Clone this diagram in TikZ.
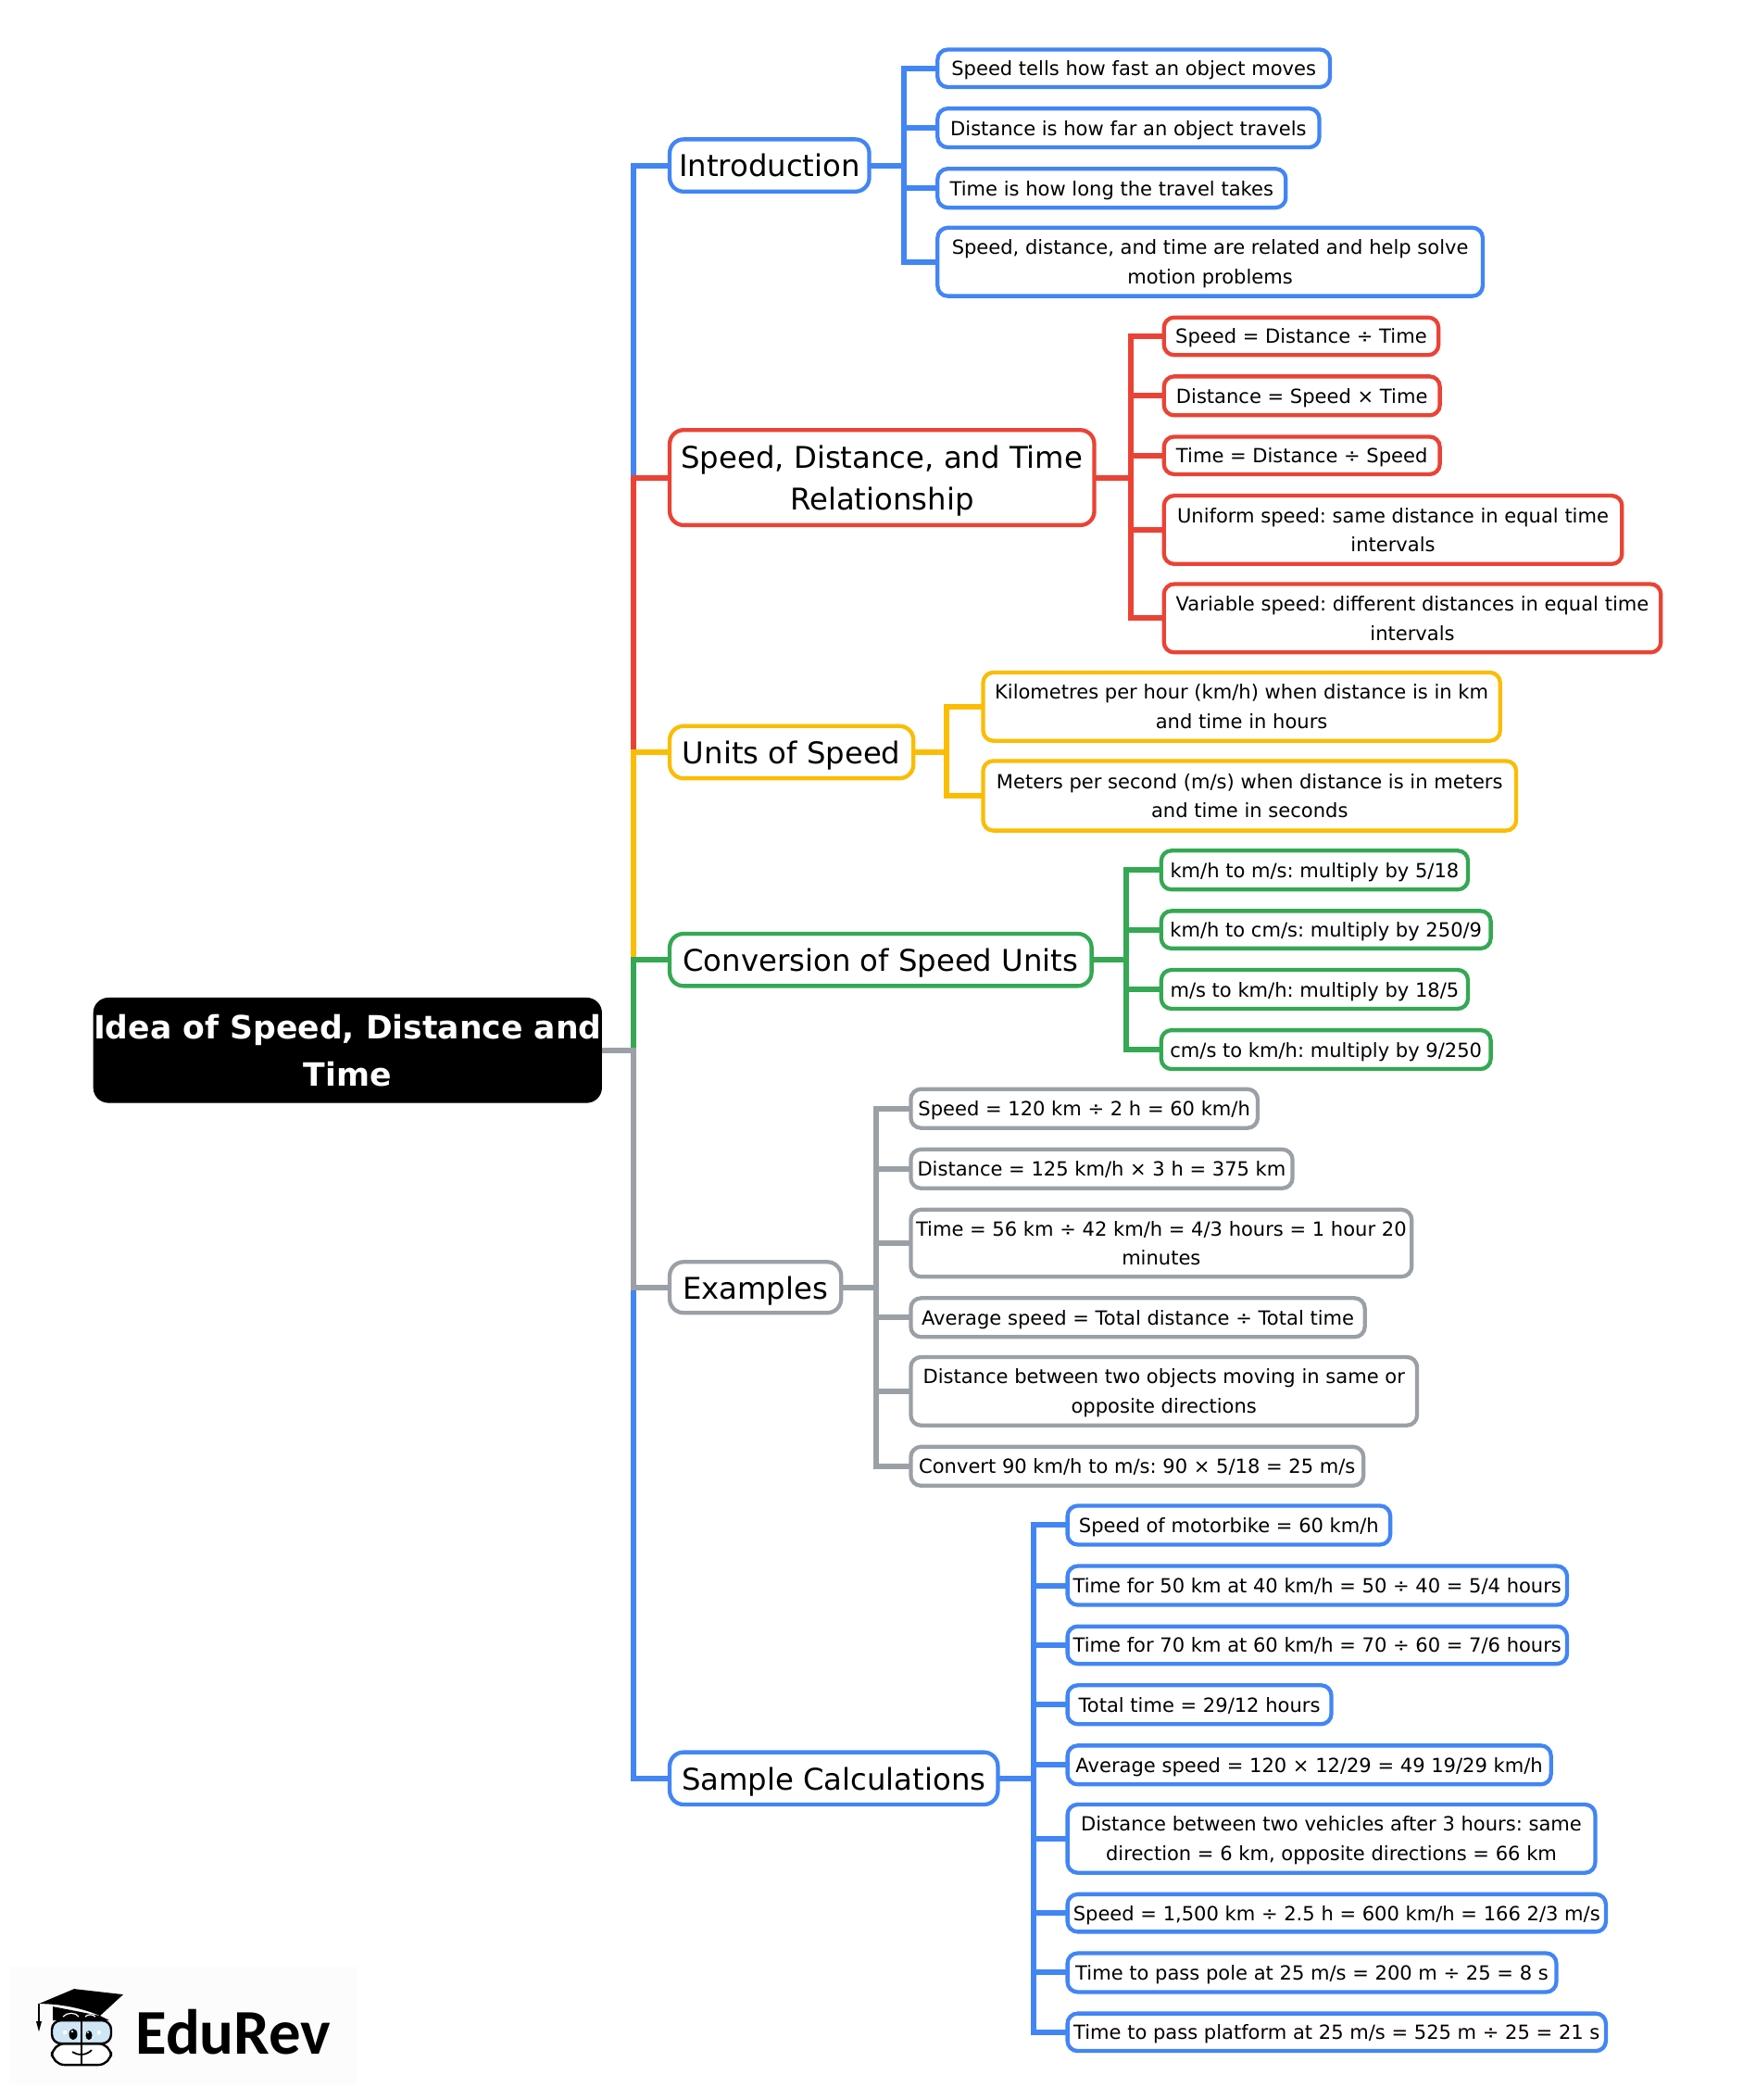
\documentclass[tikz,border=0pt]{standalone}
\usepackage{fontspec}
\setmainfont{DejaVu Sans}
\newfontfamily\logofont{Carlito}
\definecolor{cblue}{HTML}{4285F4}
\definecolor{cred}{HTML}{EA4335}
\definecolor{cyel}{HTML}{FBBC04}
\definecolor{cgrn}{HTML}{34A853}
\definecolor{cgry}{HTML}{9AA0A6}
\definecolor{cglass}{HTML}{CFE6F5}
\newlength{\dunit}\setlength{\dunit}{0.72306pt}
\tikzset{
  x=0.72306pt,y=-0.72306pt,
  basebox/.style={rectangle,outer sep=0pt,inner sep=0pt,align=center,fill=white,text=black},
  leaf/.style={basebox,rounded corners=5.5pt,line width=2.15pt,font=\fontsize{10.52}{15.9}\selectfont\frenchspacing\def\ta{11pt}\def\tb{3pt}},
  branch/.style={basebox,rounded corners=7.5pt,line width=2.15pt,font=\fontsize{16.15}{22.8}\selectfont\frenchspacing\def\ta{16pt}\def\tb{3.7pt}},
  rootbox/.style={basebox,rounded corners=8pt,fill=black,text=white,font=\bfseries\fontsize{17.3}{25.4}\selectfont\frenchspacing\def\ta{17.4pt}\def\tb{4pt}},
  conn/.style={line width=3pt,miter limit=10}
}
% style, name, colour, x1,y1,x2,y2, text
\newcommand{\bx}[8]{%
  \pgfmathsetlengthmacro{\bw}{(#6-#4)*\dunit}%
  \pgfmathsetlengthmacro{\bh}{(#7-#5)*\dunit}%
  \node[#1,draw=#3,minimum width=\bw,minimum height=\bh] (#2) at ({(#4+#6)/2},{(#5+#7)/2}) {\rule{0pt}{\ta}#8\rule[-\tb]{0pt}{\tb}};}
% from, bus, to, colour
\newcommand{\lk}[4]{\draw[conn,draw=#4] (#1.east) -- (#1.east -| #2) -- (#2 |- #3.west) -- (#3.west);}
\newcommand{\spn}[2]{\draw[conn,draw=#2] (root.east) -- (spine |- root.east) -- (spine |- #1.west) -- (#1.west);}
\begin{document}
\begin{tikzpicture}
\useasboundingbox (0,0) rectangle (1310.4,1567.6);
\fill[white] (0,0) rectangle (1310.4,1567.6);
% root and branches
\bx{rootbox}{root}{black}{70}{745}{449}{823}{Idea of Speed, Distance and\\Time}
\bx{branch}{intro}{cblue}{500}{104}{649}{143}{Introduction}
\bx{branch}{rel}{cred}{500}{321}{817}{392}{Speed, Distance, and Time\\Relationship}
\bx{branch}{units}{cyel}{500}{542}{682}{581}{Units of Speed}
\bx{branch}{conv}{cgrn}{500}{697}{815}{736}{Conversion of Speed Units}
\bx{branch}{exam}{cgry}{500}{942}{628}{980}{Examples}
\bx{branch}{samp}{cblue}{500}{1308}{745}{1347}{Sample Calculations}
% Introduction leaves
\bx{leaf}{a1}{cblue}{700}{37}{993}{65}{Speed tells how fast an object moves}
\bx{leaf}{a2}{cblue}{700}{81}{985}{110}{Distance is how far an object travels}
\bx{leaf}{a3}{cblue}{700}{126}{960}{155}{Time is how long the travel takes}
\bx{leaf}{a4}{cblue}{700}{170}{1107}{221}{Speed, distance, and time are related and help solve\\motion problems}
% Relationship leaves
\bx{leaf}{b1}{cred}{869}{237}{1074}{265}{Speed = Distance ÷ Time}
\bx{leaf}{b2}{cred}{869}{281}{1075}{310}{Distance = Speed × Time}
\bx{leaf}{b3}{cred}{869}{326}{1075}{354}{Time = Distance ÷ Speed}
\bx{leaf}{b4}{cred}{869}{370}{1211}{421}{Uniform speed: same distance in equal time\\intervals}
\bx{leaf}{b5}{cred}{869}{436}{1240}{487}{Variable speed: different distances in equal time\\intervals}
% Units leaves
\bx{leaf}{c1}{cyel}{734}{502}{1120}{553}{Kilometres per hour (km/h) when distance is in km\\and time in hours}
\bx{leaf}{c2}{cyel}{734}{568}{1132}{620}{Meters per second (m/s) when distance is in meters\\and time in seconds}
% Conversion leaves
\bx{leaf}{d1}{cgrn}{867}{635}{1096}{664}{km/h to m/s: multiply by 5/18}
\bx{leaf}{d2}{cgrn}{867}{680}{1113}{708}{km/h to cm/s: multiply by 250/9}
\bx{leaf}{d3}{cgrn}{867}{724}{1096}{753}{m/s to km/h: multiply by 18/5}
\bx{leaf}{d4}{cgrn}{867}{769}{1113}{798}{cm/s to km/h: multiply by 9/250}
% Examples leaves
\bx{leaf}{e1}{cgry}{680}{813}{939}{842}{Speed = 120 km ÷ 2 h = 60 km/h}
\bx{leaf}{e2}{cgry}{680}{858}{965}{887}{Distance = 125 km/h × 3 h = 375 km}
\bx{leaf}{e3}{cgry}{680}{903}{1054}{953}{Time = 56 km ÷ 42 km/h = 4/3 hours = 1 hour 20\\minutes}
\bx{leaf}{e4}{cgry}{680}{969}{1019}{998}{Average speed = Total distance ÷ Total time}
\bx{leaf}{e5}{cgry}{680}{1013}{1058}{1064}{Distance between two objects moving in same or\\opposite directions}
\bx{leaf}{e6}{cgry}{680}{1080}{1018}{1109}{Convert 90 km/h to m/s: 90 × 5/18 = 25 m/s}
% Sample leaves
\bx{leaf}{f1}{cblue}{797}{1124}{1038}{1153}{Speed of motorbike = 60 km/h}
\bx{leaf}{f2}{cblue}{797}{1169}{1170}{1198}{Time for 50 km at 40 km/h = 50 ÷ 40 = 5/4 hours}
\bx{leaf}{f3}{cblue}{797}{1214}{1170}{1242}{Time for 70 km at 60 km/h = 70 ÷ 60 = 7/6 hours}
\bx{leaf}{f4}{cblue}{797}{1258}{994}{1287}{Total time = 29/12 hours}
\bx{leaf}{f5}{cblue}{797}{1303}{1158}{1332}{Average speed = 120 × 12/29 = 49 19/29 km/h}
\bx{leaf}{f6}{cblue}{797}{1347}{1191}{1398}{Distance between two vehicles after 3 hours: same\\direction = 6 km, opposite directions = 66 km}
\bx{leaf}{f7}{cblue}{797}{1414}{1199}{1442}{Speed = 1,500 km ÷ 2.5 h = 600 km/h = 166 2/3 m/s}
\bx{leaf}{f8}{cblue}{797}{1458}{1162}{1487}{Time to pass pole at 25 m/s = 200 m ÷ 25 = 8 s}
\bx{leaf}{f9}{cblue}{797}{1503}{1199}{1531}{Time to pass platform at 25 m/s = 525 m ÷ 25 = 21 s}
% bus coordinates
\coordinate (spine) at (473,0);
\coordinate (busa) at (675,0);
\coordinate (busb) at (844,0);
\coordinate (busc) at (707,0);
\coordinate (busd) at (841,0);
\coordinate (buse) at (654,0);
\coordinate (busf) at (772,0);
% spine connectors (later ones lie over earlier ones)
\spn{intro}{cblue}
\spn{rel}{cred}
\spn{units}{cyel}
\spn{conv}{cgrn}
\spn{samp}{cblue}
\spn{exam}{cgry}
% leaf connectors
\foreach \n in {a1,a2,a3,a4}{\lk{intro}{busa}{\n}{cblue}}
\foreach \n in {b1,b2,b3,b4,b5}{\lk{rel}{busb}{\n}{cred}}
\foreach \n in {c1,c2}{\lk{units}{busc}{\n}{cyel}}
\foreach \n in {d1,d2,d3,d4}{\lk{conv}{busd}{\n}{cgrn}}
\foreach \n in {e1,e2,e3,e4,e5,e6}{\lk{exam}{buse}{\n}{cgry}}
\foreach \n in {f1,f2,f3,f4,f5,f6,f7,f8,f9}{\lk{samp}{busf}{\n}{cblue}}
% logo, in reference pixels
\begin{scope}[x=0.5pt,y=-0.5pt]
\fill[black!1] (10,2123) rectangle (385,2250);
\node[anchor=base west,inner sep=0pt,font=\logofont\bfseries\fontsize{34.4}{34.4}\selectfont] (brand) at (146,2217) {EduRev};
\draw[line width=1.2pt,rounded corners=7pt,fill=white] (56,2206) rectangle (120,2229);
\draw[line width=1.2pt,rounded corners=5pt,fill=cglass] (56,2181) rectangle (120,2206);
\fill (57,2166) -- (108,2176) -- (118,2181) -- (57,2181) -- cycle;
\fill (42,2163) -- (80,2147) -- (133,2153) -- (108,2176) .. controls (90,2168) and (65,2163) .. (42,2163) -- cycle;
\draw[white,line width=0.6pt] (68,2177) .. controls (72,2172) and (82,2172) .. (85,2177);
\draw[white,line width=0.6pt] (92,2177) .. controls (95,2174) and (100,2174) .. (103,2177);
\draw[line width=0.7pt] (42,2163) -- (42,2183);
\fill (39,2182) -- (45,2182) -- (42,2193) -- cycle;
\draw[line width=1.2pt] (88,2181) -- (88,2230);
\fill (79,2196) ellipse [x radius=4.5,y radius=6];
\fill (96,2197) ellipse [x radius=3.5,y radius=5];
\fill[white] (78,2193) circle (1.3);
\fill[white] (95,2194) circle (1.1);
\fill[white] (70,2194) circle (2.2);
\fill[white] (107,2194) circle (2.2);
\draw[line width=0.9pt] (78,2215) .. controls (84,2219) and (93,2219) .. (99,2213);
\end{scope}
\end{tikzpicture}
\end{document}
